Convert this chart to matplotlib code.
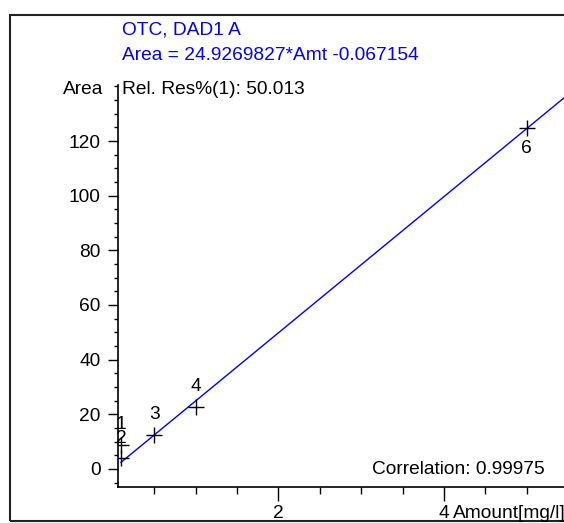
import matplotlib
matplotlib.use("Agg")
import matplotlib.pyplot as plt
import numpy as np
from matplotlib.patches import Rectangle
from matplotlib.ticker import MultipleLocator, FixedLocator

plt.rcParams['font.family'] = ['Liberation Sans', 'DejaVu Sans']

# calibration points
amount = [0.1, 0.1, 0.5, 1.0, 5.0]
area = [8.8, 4.0, 12.5, 22.7, 124.7]
labels = ["1", "2", "3", "4", "6"]
label_dir = [1, 1, 1, 1, -1]   # label above (+1) or below (-1) the point

yticks = [0, 20, 40, 60, 80, 100, 120]
xticks = [2, 4]

slope = 24.9269827
intercept = -0.067154
title = "OTC, DAD1 A"
equation = "Area = 24.9269827*Amt -0.067154"
relres = "Rel. Res%(1): 50.013"
corr = "Correlation: 0.99975"

W, H = 564, 523
fs = 13.8
blue = "#0000ff"


def fx(x):
    return x / W


def fy(y):
    return 1 - y / H


fig = plt.figure(figsize=(W / 100, H / 100), dpi=100)
fig.patch.set_facecolor("white")

# outer frame
fig.patches.append(Rectangle((fx(10), fy(521)), 1.2, fy(15) - fy(521),
                             transform=fig.transFigure, fill=False,
                             edgecolor="#222222", lw=1.5))

ax = fig.add_axes([fx(117.5), fy(487), 1 - fx(117.5), fy(85) - fy(487)])
ax.set_facecolor("none")

xfit = np.array([min(amount), 6.0])
ax.plot(xfit, slope * xfit + intercept, color=blue, lw=1)
ax.plot(amount, area, ls="none", marker="+", ms=12, mew=1, color="black")
for x, y, t, d in zip(amount, area, labels, label_dir):
    ax.annotate(t, (x, y), xytext=(0, 20 * d), textcoords="offset pixels",
                ha="center", va="center", fontsize=fs)

ax.set_xlim(0.058, 5.45)
ax.set_ylim(-6.6, 140.5)
ax.xaxis.set_major_locator(FixedLocator(xticks))
ax.xaxis.set_minor_locator(MultipleLocator(0.5))
ax.yaxis.set_major_locator(FixedLocator(yticks))
ax.yaxis.set_minor_locator(MultipleLocator(5))
ax.set_xticklabels([str(v) for v in xticks])
ax.set_yticklabels([str(v) for v in yticks])
ax.tick_params(axis="x", which="major", length=10, width=1, pad=3, labelsize=fs)
ax.tick_params(axis="x", which="minor", length=5, width=1)
ax.tick_params(axis="y", which="major", length=7, width=1, pad=5, labelsize=fs)
ax.tick_params(axis="y", which="minor", length=3, width=1)
for s in ["top", "right"]:
    ax.spines[s].set_visible(False)
for s in ["left", "bottom"]:
    ax.spines[s].set_linewidth(1.2)

fig.text(fx(122), fy(30), title, color=blue, fontsize=fs, va="center", ha="left")
fig.text(fx(122), fy(55), equation, color=blue, fontsize=fs, va="center", ha="left")
fig.text(fx(103), fy(90), "Area", fontsize=fs, va="center", ha="right")
fig.text(fx(122), fy(90), relres, fontsize=fs, va="center", ha="left")
fig.text(fx(545), fy(470), corr, fontsize=fs, va="center", ha="right")
fig.text(fx(453), fy(514), "Amount[mg/l]", fontsize=fs, va="center", ha="left")

fig.savefig("out.png", dpi=100)
